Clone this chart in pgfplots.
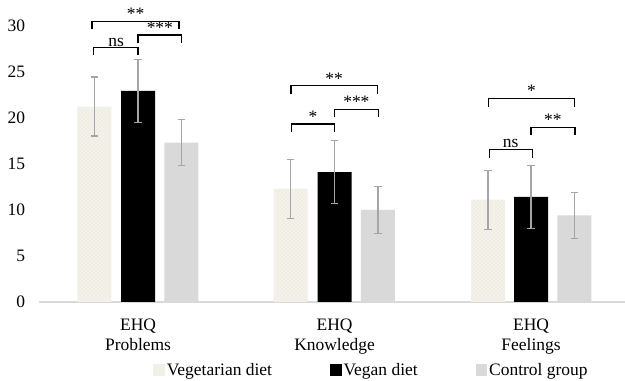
\documentclass[border=0pt]{standalone}
\usepackage{pgfplots}
\pgfplotsset{compat=1.18}
\usepackage{pgfplotstable}
\usepackage{fontspec}
\setmainfont{Liberation Serif}
\usetikzlibrary{patterns,calc}
\definecolor{vegfill}{RGB}{240,238,228}
\definecolor{ctrlfill}{RGB}{217,217,217}
\definecolor{errcol}{RGB}{165,165,165}
\definecolor{axcol}{RGB}{217,217,217}
\newcommand\f{\fontsize{13.1}{15.5}\selectfont}

\pgfplotstableread{
x y e
-0.222 21.2 3.2
0.776 12.3 3.2
1.781 11.1 3.2
}\veg
\pgfplotstableread{
x y e
0 22.9 3.45
1 14.1 3.45
2 11.4 3.45
}\vegan
\pgfplotstableread{
x y e
0.221 17.3 2.5
1.221 10.0 2.55
2.221 9.4 2.5
}\ctrl

\newcommand{\brk}[6]{%
  \draw[black, line width=0.95pt] (axis cs:#1,#4) -- (axis cs:#1,#3) -- (axis cs:#2,#3) -- (axis cs:#2,#4);
  \node[anchor=base, inner sep=0pt, font=\f] at (axis cs:#5,#3) [yshift=1.2pt] {#6};
}

\begin{document}
\begin{tikzpicture}
\begin{axis}[
  scale only axis, width=439.2pt, height=207.4pt,
  xmin=-0.504, xmax=2.476, ymin=0, ymax=30,
  clip=false,
  axis x line*=bottom, axis y line*=left,
  y axis line style={draw=none},
  x axis line style={axcol, line width=1.1pt},
  major tick length=0pt,
  xtick style={draw=none}, ytick style={draw=none},
  ytick={0,5,...,30},
  xtick={0,1,2},
  xticklabels={{EHQ\\Problems},{EHQ\\Knowledge},{EHQ\\Feelings}},
  xticklabel style={align=center, font=\f, anchor=north, inner sep=0pt, yshift=-12.3pt},
  yticklabel style={font=\f, anchor=east, inner sep=0pt, xshift=-10.3pt},
  /pgf/number format/assume math mode=true,
  legend columns=3,
  legend style={draw=none, fill=none, font=\f, at={(axis description cs:0.5678,-0.246)}, anchor=center,
    /tikz/every even column/.append style={column sep=42pt},
    nodes={inner sep=1.5pt}},
  legend image code/.code={\path[#1, draw=none] (0pt,-4.3pt) rectangle (8.6pt,4.3pt);},
  error bars/y dir=both, error bars/y explicit,
  error bars/error bar style={errcol, line width=0.9pt},
  error bars/error mark options={rotate=90, errcol, mark size=2.7pt, line width=0.9pt},
]
\addplot[ybar, bar width=0.173, bar shift=0pt, draw=none, fill=vegfill,
  postaction={pattern=crosshatch dots, pattern color=white}]
  table[x=x, y=y, y error=e]{\veg};
\addlegendentry{Vegetarian diet}
\addplot[ybar, bar width=0.173, bar shift=0pt, draw=none, fill=black]
  table[x=x, y=y, y error=e]{\vegan};
\addlegendentry{Vegan diet}
\addplot[ybar, bar width=0.173, bar shift=0pt, draw=none, fill=ctrlfill]
  table[x=x, y=y, y error=e]{\ctrl};
\addlegendentry{Control group}

% Problems
\brk{-0.225}{0}{27.59}{26.8}{-0.112}{ns}
\brk{0}{0.222}{28.97}{28.07}{0.111}{***}
\brk{-0.234}{0.209}{30.45}{29.59}{-0.012}{**}
% Knowledge
\brk{0.78}{1}{19.31}{18.41}{0.89}{*}
\brk{1}{1.223}{20.9}{20.04}{1.111}{***}
\brk{0.778}{1.218}{23.47}{22.6}{0.998}{**}
% Feelings
\brk{1.787}{2.006}{16.57}{15.66}{1.896}{ns}
\brk{2}{2.223}{18.95}{18.09}{2.111}{**}
\brk{1.784}{2.22}{22.1}{21.19}{2.002}{*}
\end{axis}
\pgfresetboundingbox
\path ($(current axis.south west)+(-29.25pt,-59.25pt)$) rectangle ($(current axis.north east)+(0.3pt,19.1pt)$);
\end{tikzpicture}
\end{document}
